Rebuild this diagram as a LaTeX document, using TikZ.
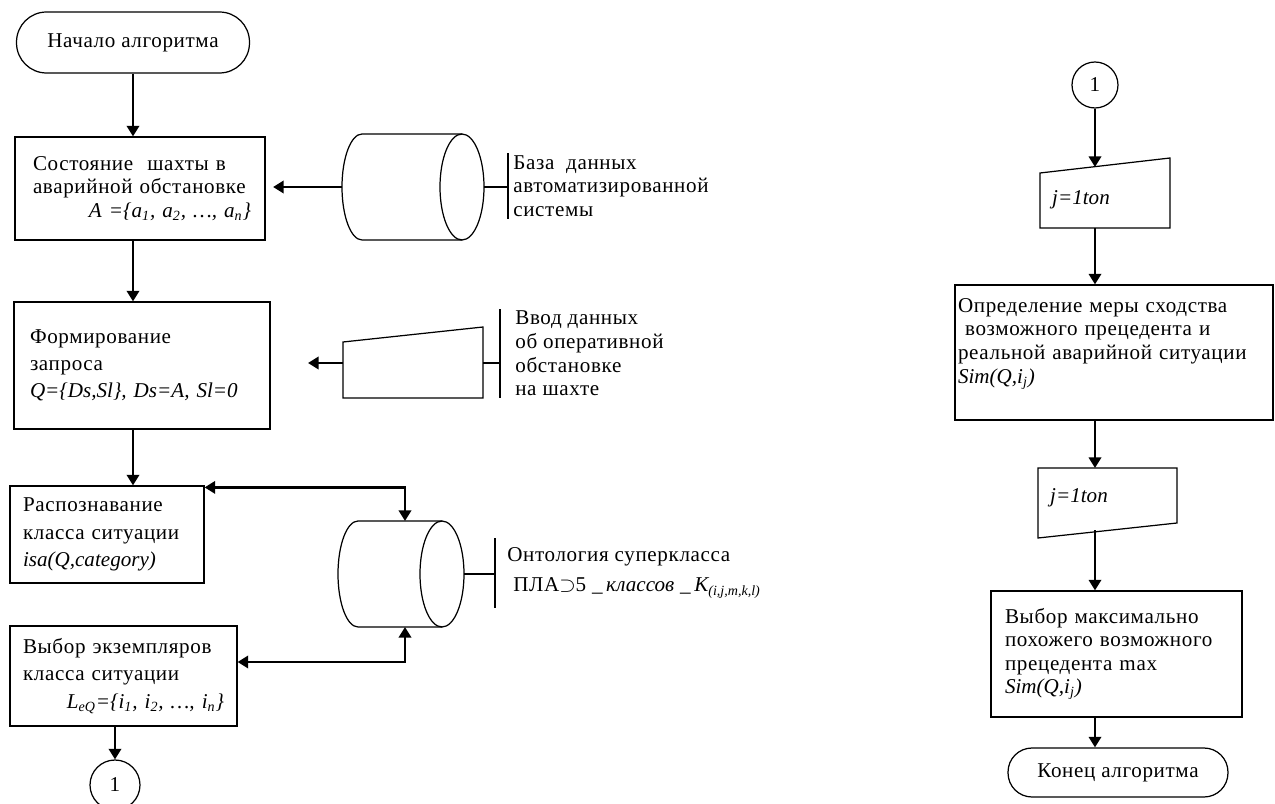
\documentclass[tikz,border=0pt]{standalone}
\usepackage{fontspec}
\setmainfont{Liberation Serif}[LetterSpace=3]
\newfontfamily\formfont{Liberation Serif}
\newcommand\frm[1]{{\formfont\itshape #1}}
\usetikzlibrary{arrows.meta}

\tikzset{
    thinline/.style={line width=0.7pt},
    arr/.style={line width=1.4pt, -{Triangle[length=6pt,width=7pt]}},
    biarr/.style={line width=1.4pt, {Triangle[length=6pt,width=7pt]}-{Triangle[length=6pt,width=7pt]}},
    term/.style={draw, thinline, inner sep=0pt},
    box/.style={draw, thinline, align=left, inner ysep=2pt},
    note/.style={align=left, anchor=west, inner ysep=1pt},
    conn/.style={draw, thinline, circle, inner sep=0pt},
}

\begin{document}
\begin{tikzpicture}[x=0.02cm, y=-0.02cm, font=\fontsize{12}{13.4}\selectfont]
    \useasboundingbox (0,0) rectangle (1275,804);

    % Left column
    \node[term, rounded corners=0.6cm, minimum width=4.66cm, minimum height=1.22cm] (start) at (133,42.5) {Начало алгоритма};
    \node[box, minimum width=5cm, minimum height=2.06cm, text width=4.44cm, inner xsep=0.28cm] (sost) at (140,188.5)
        {\hspace*{0.08cm}Состояние \ шахты в\\ \hspace*{0.08cm}аварийной обстановке\\ \hspace*{\fill}\frm{A =\{a\textsubscript{1}, a\textsubscript{2}, \ldots, a\textsubscript{n}\}}\hspace*{\fill}};
    \node[box, minimum width=5.12cm, minimum height=2.54cm, text width=4.48cm, inner xsep=0.32cm,
          font=\fontsize{12}{15.4}\selectfont] (zapros) at (142,365.5)
        {Формирование\\ запроса\\ \frm{Q=\{Ds,Sl\}, Ds=A, Sl=0}};
    \node[box, minimum width=3.88cm, minimum height=1.94cm, text width=3.36cm, inner xsep=0.26cm,
          font=\fontsize{12}{15.8}\selectfont] (raspozn) at (107,534.5)
        {Распознавание\\ класса ситуации\\ \frm{isa(Q,category)}};
    \node[box, minimum width=4.54cm, minimum height=2cm, text width=4.02cm, inner xsep=0.26cm,
          font=\fontsize{12}{15.8}\selectfont] (vybor) at (123.5,676)
        {Выбор экземпляров\\ класса ситуации\\ \hspace*{\fill}\frm{L\textsubscript{eQ}=\{i\textsubscript{1}, i\textsubscript{2}, \ldots, i\textsubscript{n}\}}\hspace*{\fill}};
    \node[conn, minimum size=1cm] (c1L) at (115,785) {\formfont 1};

    \draw[arr] (start.south) -- (start.south |- sost.north);
    \draw[arr] (sost.south -| start.south) -- (start.south |- zapros.north);
    \draw[arr] (zapros.south -| start.south) -- (start.south |- raspozn.north);
    \draw[arr] (vybor.south -| c1L) -- (c1L);

    % Data base
    \draw[thinline] (462,134) -- (362,134) arc[start angle=90, end angle=270, x radius=0.4cm, y radius=1.06cm] -- (462,240);
    \draw[thinline] (462,187) ellipse [x radius=0.44cm, y radius=1.06cm];
    \coordinate (bdL) at (342,187);
    \coordinate (bdR) at (484,187);
    \draw[arr, shorten >=0.15cm] (bdL) -- (bdL -| sost.east);
    \node[note, inner xsep=0.1cm] (bdtxt) at (508,186) {База \ данных\\ автоматизированной\\ системы};
    \draw[thinline] (bdtxt.north west) -- (bdtxt.south west);
    \draw[thinline] (bdR) -- (bdR -| bdtxt.west);

    % Manual input
    \draw[thinline] (343,342) -- (483,327) -- (483,398) -- (343,398) -- cycle;
    \coordinate (vvodL) at (343,363);
    \coordinate (vvodR) at (483,363);
    \coordinate (vvodend) at (308,363);
    \draw[arr] (vvodL) -- (vvodend);
    \node[note, inner xsep=0.3cm] (vvodtxt) at (500,353.5) {Ввод данных\\ об оперативной\\ обстановке\\ на шахте};
    \draw[thinline] (vvodtxt.north west) -- (vvodtxt.south west);
    \draw[thinline] (vvodR) -- (vvodR -| vvodtxt.west);

    % Ontology
    \draw[thinline] (442,521) -- (358,521) arc[start angle=90, end angle=270, x radius=0.4cm, y radius=1.06cm] -- (442,627);
    \draw[thinline] (442,574) ellipse [x radius=0.44cm, y radius=1.06cm];
    \coordinate (ontT) at (405,521);
    \coordinate (ontB) at (405,627);
    \coordinate (ontR) at (464,574);
    \draw[biarr] ([yshift=-0.04cm]raspozn.north east) -| (ontT);
    \draw[biarr] ([yshift=0.28cm]vybor.east) -| (ontB);
    \node[note, inner xsep=0.24cm, minimum height=1.38cm, font=\fontsize{12}{17}\selectfont] (onttxt) at (495,573)
        {Онтология суперкласса\\ \ ПЛА$\supset$5\ \_\,\frm{классов}\ \_\,\frm{K}\textsubscript{\frm{(i,j,m,k,l)}}};
    \draw[thinline] (onttxt.north west) -- (onttxt.south west);
    \draw[thinline] (ontR) -- (ontR -| onttxt.west);

    % Right column
    \node[conn, minimum size=0.92cm] (c1R) at (1095,85) {\formfont 1};
    \draw[thinline] (1040,173) -- (1170,158) -- (1170,228) -- (1040,228) -- cycle;
    \node[anchor=west] (cikl1) at (1046,200) {\frm{j=1ton}};
    \coordinate (cikl1top) at (1095,167);
    \coordinate (cikl1bot) at (1095,228);
    \node[box, minimum width=6.36cm, minimum height=2.7cm, text width=6.24cm, inner xsep=0.06cm] (mera) at (1114,352.5)
        {Определение меры сходства\\ \ возможного прецедента и\\ реальной аварийной ситуации\\ \frm{Sim(Q,i\textsubscript{j})}\\ \mbox{}};
    \draw[thinline] (1038,468) -- (1177,468) -- (1177,523) -- (1038,538) -- cycle;
    \node[anchor=west] (cikl2) at (1044,498) {\frm{j=1ton}};
    \coordinate (cikl2top) at (1095,468);
    \coordinate (cikl2bot) at (1095,530);
    \node[box, minimum width=5.02cm, minimum height=2.52cm, text width=4.46cm, inner xsep=0.28cm] (maks) at (1116.5,654)
        {Выбор максимально\\ похожего возможного\\ прецедента max\\ \frm{Sim(Q,i\textsubscript{j})}};
    \node[term, rounded corners=0.48cm, minimum width=4.4cm, minimum height=0.98cm] (konec) at (1118,772.5) {Конец алгоритма};

    \draw[arr] (c1R) -- (cikl1top);
    \draw[arr] (cikl1bot) -- (cikl1bot |- mera.north);
    \draw[arr] (mera.south -| cikl2top) -- (cikl2top);
    \draw[arr] (cikl2bot) -- (cikl2bot |- maks.north);
    \draw[arr] (maks.south -| cikl2bot) -- (cikl2bot |- konec.north);

\end{tikzpicture}
\end{document}
